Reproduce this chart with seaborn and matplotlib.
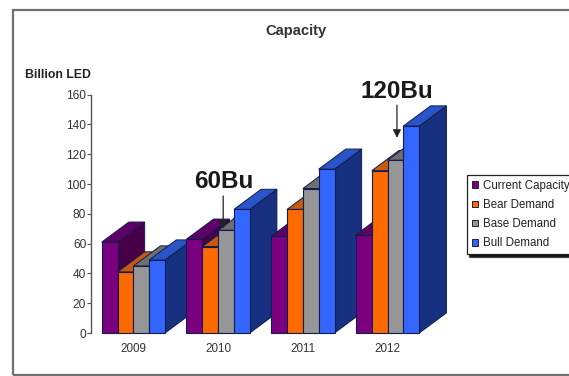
import matplotlib
matplotlib.use("Agg")
import matplotlib.pyplot as plt
from matplotlib.patches import Polygon, Rectangle, Patch
import pandas as pd
import seaborn as sns

years = ["2009", "2010", "2011", "2012"]
current_capacity = [61, 63, 65, 66]
bear_demand = [41, 58, 83, 109]
base_demand = [45, 69, 97, 116]
bull_demand = [49, 83, 110, 139]

series_names = ["Current Capacity", "Bear Demand", "Base Demand", "Bull Demand"]
series_values = [current_capacity, bear_demand, base_demand, bull_demand]
front_colors = ["#7a0080", "#ff6a00", "#969696", "#3366ff"]
top_colors = ["#5f0068", "#c9590e", "#6f6f6f", "#2a55c8"]
side_colors = ["#470048", "#8a3c08", "#4d4d4d", "#17307f"]
edge_color = "#101c50"

# Extrusion of the bars, in data units
depth_x = 0.32
depth_y = 13.5

sns.set_theme(style="white")
plt.rcParams["font.family"] = ["Liberation Sans", "DejaVu Sans"]

table = pd.DataFrame(
    [
        {"year": year, "series": name, "value": value}
        for name, values in zip(series_names, series_values)
        for year, value in zip(years, values)
    ]
)

W, H = 569, 376
fig = plt.figure(figsize=(W / 100, H / 100), dpi=100, facecolor="white")
ax = fig.add_axes([91 / W, (H - 333) / H, 339 / W, 238.3 / H])
ax.patch.set_alpha(0)

sns.barplot(
    data=table, x="year", y="value", hue="series", hue_order=series_names,
    palette=front_colors, width=0.747, gap=0, saturation=1, legend=False, ax=ax,
)

# Extrude every bar, painting left to right so nearer bars cover earlier sides
bars = []
for index, container in enumerate(ax.containers):
    bars.extend((bar, index) for bar in container)
bars.sort(key=lambda item: item[0].get_x())

for order, (bar, index) in enumerate(bars):
    x0, x1 = bar.get_x(), bar.get_x() + bar.get_width()
    y1 = bar.get_height()
    base_z = 3 + order
    side = Polygon(
        [(x1, 0), (x1 + depth_x, depth_y), (x1 + depth_x, y1 + depth_y), (x1, y1)],
        facecolor=side_colors[index], edgecolor=edge_color, lw=0.7,
        clip_on=False, zorder=base_z,
    )
    top = Polygon(
        [(x0, y1), (x0 + depth_x, y1 + depth_y), (x1 + depth_x, y1 + depth_y), (x1, y1)],
        facecolor=top_colors[index], edgecolor=edge_color, lw=0.7,
        clip_on=False, zorder=base_z,
    )
    ax.add_patch(side)
    ax.add_patch(top)
    bar.set_edgecolor(edge_color)
    bar.set_linewidth(0.8)
    bar.set_clip_on(False)
    bar.set_zorder(base_z + 0.5)

ax.set_xlim(-0.5, 3.5)
ax.set_ylim(0, 160)
ax.set_yticks(range(0, 161, 20))
ax.set_xlabel("")
ax.set_ylabel("")
sns.despine(ax=ax, top=True, right=True, bottom=True)
ax.spines["left"].set_color("#555555")
ax.spines["left"].set_linewidth(1.0)
ax.tick_params(axis="y", left=True, length=3, width=0.8, color="#555555",
               labelsize=8.6, labelcolor="#333333", pad=0.5)
ax.tick_params(axis="x", bottom=False, labelsize=8.4, labelcolor="#333333", pad=1)

# Outer chart frame, running off the right edge
fig.add_artist(Rectangle((12.5 / W, 1.5 / H), 600 / W, (H - 11) / H,
                         transform=fig.transFigure, fill=False,
                         edgecolor="#707070", lw=1.6))

fig.text(296 / W, 1 - 30.5 / H, "Capacity", ha="center", va="center",
         fontsize=10.6, fontweight="bold", color="#333333")
fig.text(25 / W, 1 - 75 / H, "Billion LED", ha="left", va="center",
         fontsize=8.8, fontweight="bold", color="#222222")

callouts = [("60Bu", 1.06, 101.5, 92, 70), ("120Bu", 3.11, 162, 153, 131)]
for label, x, text_y, start_y, tip_y in callouts:
    ax.text(x + 0.005, text_y, label, ha="center", va="center", fontsize=17.5,
            fontweight="bold", color="#1a1a1a", zorder=50)
    ax.annotate("", xy=(x, tip_y), xytext=(x, start_y), zorder=50,
                arrowprops=dict(arrowstyle="-|>", color="#222222", lw=0.9,
                                shrinkA=0, shrinkB=0, mutation_scale=12))

handles = [Patch(facecolor=c, edgecolor="#222222", lw=0.7) for c in front_colors]
legend = fig.legend(
    handles, series_names, loc="upper left", bbox_to_anchor=(467 / W, 1 - 175 / H),
    fontsize=8.3, frameon=True, fancybox=False, edgecolor="#222222",
    shadow={"ox": 1.2, "oy": -2, "facecolor": "#111111", "alpha": 1},
    handlelength=0.52, handleheight=0.52, handletextpad=0.45, labelspacing=0.62,
    borderaxespad=0, borderpad=0.42, labelcolor="#222222",
)
legend.get_frame().set_linewidth(0.9)
legend.get_frame().set_facecolor("white")

fig.savefig("out.png", dpi=100, facecolor="white")
